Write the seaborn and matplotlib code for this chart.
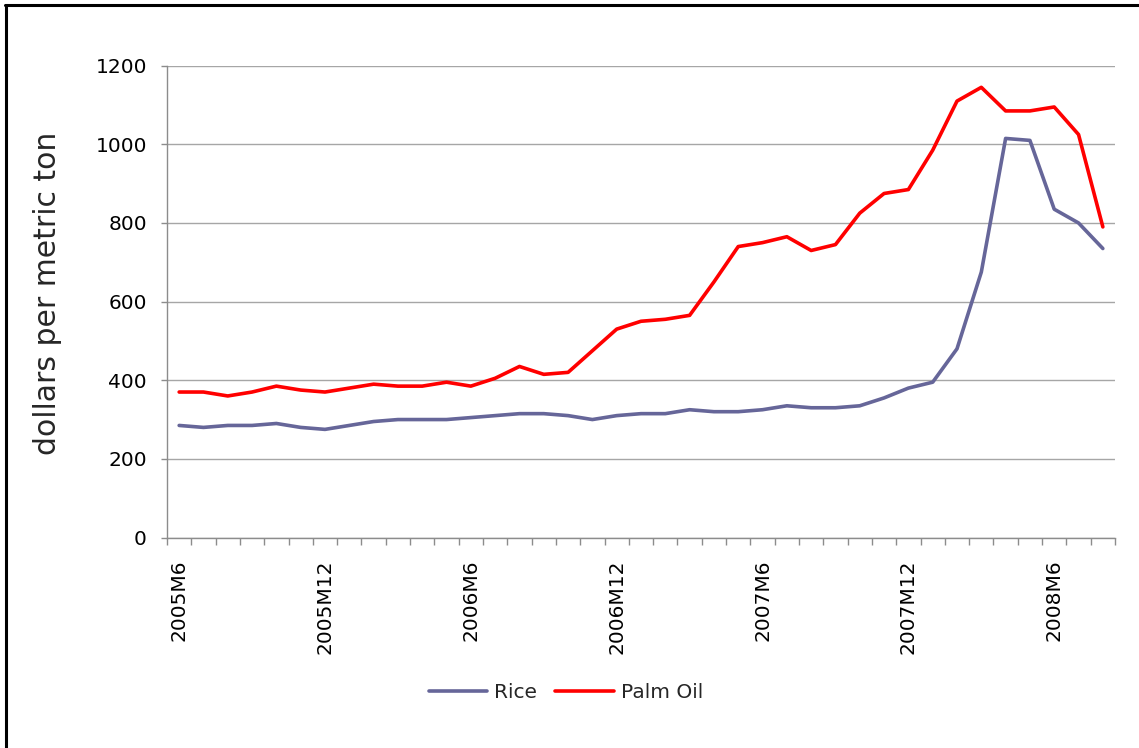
import matplotlib
matplotlib.use("Agg")
import matplotlib.pyplot as plt
from matplotlib.lines import Line2D
import seaborn as sns
import pandas as pd
import numpy as np

# Monthly commodity prices, 2005M6 .. 2008M8 (dollars per metric ton)
months = [f"{y}M{m}" for y, m in
          [(2005, m) for m in range(6, 13)] +
          [(2006, m) for m in range(1, 13)] +
          [(2007, m) for m in range(1, 13)] +
          [(2008, m) for m in range(1, 9)]]

rice = [285, 280, 285, 285, 290, 280, 275, 285, 295, 300,
        300, 300, 305, 310, 315, 315, 310, 300, 310, 315,
        315, 325, 320, 320, 325, 335, 330, 330, 335, 355,
        380, 395, 480, 675, 1015, 1010, 835, 800, 735]

palm_oil = [370, 370, 360, 370, 385, 375, 370, 380, 390, 385,
            385, 395, 385, 405, 435, 415, 420, 475, 530, 550,
            555, 565, 650, 740, 750, 765, 730, 745, 825, 875,
            885, 985, 1110, 1145, 1085, 1085, 1095, 1025, 790]

series_names = ["Rice", "Palm Oil"]
series_colors = {"Rice": "#666699", "Palm Oil": "#ff0000"}
label_step = 6
y_ticks = [0, 200, 400, 600, 800, 1000, 1200]
y_label = "dollars per metric ton"

df = pd.DataFrame({
    "pos": list(range(len(months))) * 2,
    "month": months * 2,
    "value": rice + palm_oil,
    "series": ["Rice"] * len(rice) + ["Palm Oil"] * len(palm_oil),
})

sns.set_theme(style="white")
plt.rcParams["font.family"] = ["DejaVu Sans"]

TICK_FS = 14.5

W, H = 1139, 748
fig = plt.figure(figsize=(W / 100, H / 100), dpi=100)
ax = fig.add_axes([167 / W, 1 - 537.5 / H, (1115 - 167) / W, (537.5 - 65.7) / H])

sns.lineplot(data=df, x="pos", y="value", hue="series", hue_order=series_names,
             palette=series_colors, linewidth=2.6, ax=ax, legend=False)

n = len(months)
ax.set_xlim(-0.5, n - 0.5)
ax.set_ylim(0, 1200)

# horizontal gridlines
ax.set_yticks(y_ticks)
ax.yaxis.grid(True, color="#a6a6a6", linewidth=1.0)
ax.xaxis.grid(False)
ax.set_axisbelow(True)

for s in ["top", "right"]:
    ax.spines[s].set_visible(False)
for s in ["left", "bottom"]:
    ax.spines[s].set_color("#8c8c8c")
    ax.spines[s].set_linewidth(1.0)

ax.tick_params(axis="y", direction="out", length=4.5, width=1.0, color="#8c8c8c",
               pad=10, labelsize=TICK_FS, labelcolor="black", left=True)

# category labels every six months, tick marks on category boundaries
label_pos = list(range(0, n, label_step))
ax.set_xticks(label_pos)
ax.set_xticklabels([months[i] for i in label_pos], rotation=90, fontsize=TICK_FS)
ax.set_xticks(np.arange(-0.5, n, 1.0), minor=True)
ax.tick_params(axis="x", which="major", length=0, pad=16, labelcolor="black")
ax.tick_params(axis="x", which="minor", direction="out", length=5, width=1.0,
               color="#8c8c8c", bottom=True)

ax.set_xlabel("")
ax.set_ylabel(y_label, fontsize=21.5)
ax.yaxis.set_label_coords((62 - 167) / (1115 - 167), 0.518)

handles = [Line2D([0], [0], color=series_colors[s], linewidth=2.6) for s in series_names]
fig.legend(handles, series_names, loc="center", bbox_to_anchor=(566 / W, 1 - 693 / H),
           ncol=2, frameon=False, fontsize=TICK_FS, handlelength=2.9, handletextpad=0.35,
           columnspacing=0.9)

# outer frame along the top and left edges
fig.add_artist(Line2D([6 / W, 6 / W], [0, 1 - 5 / H], color="black", linewidth=2.2,
                      transform=fig.transFigure))
fig.add_artist(Line2D([5 / W, 1], [1 - 5 / H, 1 - 5 / H], color="black", linewidth=2.2,
                      transform=fig.transFigure))

fig.savefig("out.png", dpi=100, facecolor="white")
